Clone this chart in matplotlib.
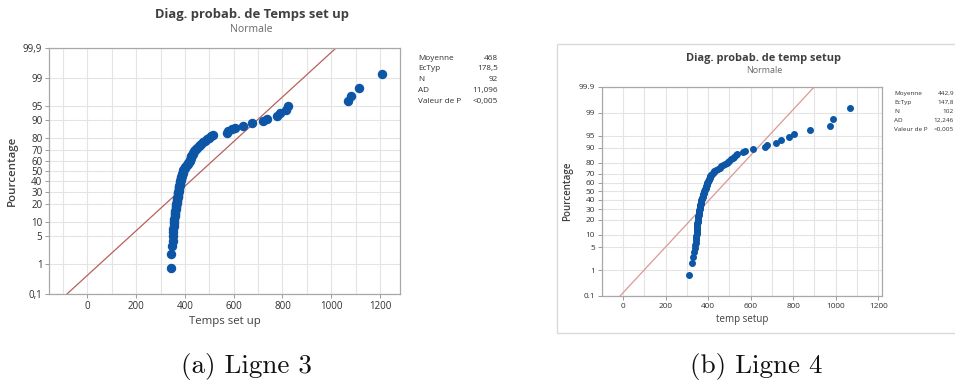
import matplotlib
matplotlib.use("Agg")
import matplotlib.pyplot as plt
import numpy as np
from statistics import NormalDist
from matplotlib.patches import Rectangle

# ---- data -------------------------------------------------------------
ligne3_values = [
    342, 343, 346, 350, 351, 352, 353, 354, 355, 356,
    357, 358, 359, 360, 361, 362, 363, 364, 365, 366,
    367, 368, 369, 370, 370, 371, 372, 373, 374, 375,
    376, 377, 377, 378, 379, 380, 381, 382, 383, 385,
    386, 388, 389, 390, 392, 393, 394, 397, 400, 402,
    405, 408, 411, 414, 417, 419, 421, 423, 425, 427,
    429, 432, 434, 437, 440, 445, 450, 456, 462, 468,
    475, 482, 490, 498, 507, 516, 571, 578, 592, 606,
    637, 674, 722, 737, 776, 790, 813, 822, 1070, 1080,
    1114, 1209,
]
ligne3_stats = {"Moyenne": "468", "EcTyp": "178,5", "N": "92",
                "AD": "11,096", "Valeur de P": "<0,005"}
ligne3_mean, ligne3_sd = 468.0, 178.5

ligne4_values = [
    312, 324, 328, 335, 339, 340, 341, 342, 343, 345,
    346, 347, 347, 348, 348, 349, 349, 350, 351, 351,
    352, 353, 354, 354, 355, 356, 357, 357, 358, 359,
    360, 361, 362, 363, 363, 364, 365, 366, 367, 368,
    369, 370, 371, 372, 374, 375, 376, 378, 379, 380,
    382, 383, 385, 386, 388, 389, 391, 392, 393, 395,
    396, 397, 399, 401, 403, 405, 407, 409, 411, 413,
    415, 417, 422, 426, 430, 438, 448, 455, 462, 468,
    478, 488, 494, 500, 508, 515, 522, 530, 535, 562,
    575, 611, 667, 675, 717, 741, 780, 803, 879, 973,
    989, 1067,
]
ligne4_stats = {"Moyenne": "442,9", "EcTyp": "147,8", "N": "102",
                "AD": "12,246", "Valeur de P": "<0,005"}
ligne4_mean, ligne4_sd = 442.9, 147.8

percent_ticks = [0.1, 1, 5, 10, 20, 30, 40, 50, 60, 70, 80, 90, 95, 99, 99.9]
x_ticks = [0, 200, 400, 600, 800, 1000, 1200]

# ---- figure -----------------------------------------------------------
W, H = 955, 383
fig = plt.figure(figsize=(W / 100, H / 100), dpi=100)
ND = NormalDist()
FONT = ["Open Sans", "DejaVu Sans"]


def fx(px):
    return px / W


def fy(py):
    return 1 - py / H


def prob_panel(box, values, mean, sd, stats, title, xlabel, xlim, decimal,
               s, color_line, msize, title_xy, stats_x, stats_y, stats_size):
    l, t, r, b = box
    ax = fig.add_axes([fx(l), fy(b), fx(r - l), (b - t) / H])
    vals = np.sort(np.asarray(values, float))
    n = len(vals)
    ranks = np.arange(1, n + 1)
    z = np.array([ND.inv_cdf(p) for p in (ranks - 0.3) / (n + 0.4)])

    zlo, zhi = ND.inv_cdf(0.001), ND.inv_cdf(0.999)
    ax.set_ylim(zlo, zhi)
    ax.set_xlim(*xlim)

    # fitted normal reference line
    zz = np.array([zlo - 1, zhi + 1])
    ax.plot(mean + sd * zz, zz, color=color_line, lw=0.9, zorder=2)
    ax.plot(vals, z, "o", ms=msize, color="#0d56a6", mec="#0d56a6", zorder=3)

    yt = [ND.inv_cdf(p / 100) for p in percent_ticks]
    ylabels = [f"{p:g}".replace(".", decimal) for p in percent_ticks]
    ax.set_yticks(yt)
    ax.set_yticklabels(ylabels)
    ax.set_xticks(x_ticks)
    ax.set_xticks(np.arange(-100, 1300, 100), minor=True)
    ax.grid(True, which="both", axis="x", color="#e4e4e4", lw=0.8, zorder=0)
    ax.grid(True, which="major", axis="y", color="#e4e4e4", lw=0.8, zorder=0)
    ax.tick_params(which="minor", length=0)
    ax.tick_params(which="major", length=3, width=0.7, color="#9a9a9a",
                   labelsize=s * 0.88, labelcolor="#303030", pad=2)
    for lab in ax.get_xticklabels() + ax.get_yticklabels():
        lab.set_family(FONT)
    for sp in ax.spines.values():
        sp.set_color("#a8a8a8")
        sp.set_linewidth(0.9)
    ax.set_axisbelow(True)

    ax.set_xlabel(xlabel, fontsize=s * 1.03, color="#404040", family=FONT,
                  labelpad=3)
    ax.set_ylabel("Pourcentage", fontsize=s * 1.03, color="#404040",
                  family=FONT, weight="semibold", labelpad=4)

    tx, ty1, ty2 = title_xy
    fig.text(fx(tx), fy(ty1), title, ha="center", va="center",
             fontsize=s * 1.17, weight="bold", color="#404040", family=FONT)
    fig.text(fx(tx), fy(ty2), "Normale", ha="center", va="center",
             fontsize=s * 0.95, color="#6a6a6a", family=FONT)

    lx, vx = stats_x
    y0, dy = stats_y
    for i, (k, v) in enumerate(stats.items()):
        fig.text(fx(lx), fy(y0 + i * dy), k, ha="left", va="center",
                 fontsize=stats_size, color="#303030", family=FONT)
        fig.text(fx(vx), fy(y0 + i * dy), v, ha="right", va="center",
                 fontsize=stats_size, color="#303030", family=FONT)
    return ax


prob_panel((49.3, 48, 400, 294), ligne3_values, ligne3_mean, ligne3_sd,
           ligne3_stats, "Diag. probab. de Temps set up", "Temps set up",
           (-156, 1282), ",", 8.0, "#b9605c", 5.8,
           (251.5, 14.5, 29), (418, 498), (58, 10.8), 5.9)

# framed right panel
fig.patches.append(Rectangle((fx(557), fy(333)), fx(955 - 557) + 0.01,
                             (333 - 44) / H, transform=fig.transFigure,
                             fill=False, edgecolor="#dadada", lw=1.0))

prob_panel((601.7, 86.7, 881.7, 296), ligne4_values, ligne4_mean, ligne4_sd,
           ligne4_stats, "Diag. probab. de temp setup", "temp setup",
           (-81.5, 1216), ".", 6.8, "#dc9894", 4.0,
           (763.8, 58.3, 70.7), (894, 954), (93.5, 8.9), 4.6)

fig.text(fx(246), fy(366), "(a) Ligne 3", ha="center", va="center",
         family="cmr10", fontsize=19.5, color="#111111")
fig.text(fx(756), fy(366), "(b) Ligne 4", ha="center", va="center",
         family="cmr10", fontsize=19.5, color="#111111")

fig.savefig("out.png", dpi=100)
